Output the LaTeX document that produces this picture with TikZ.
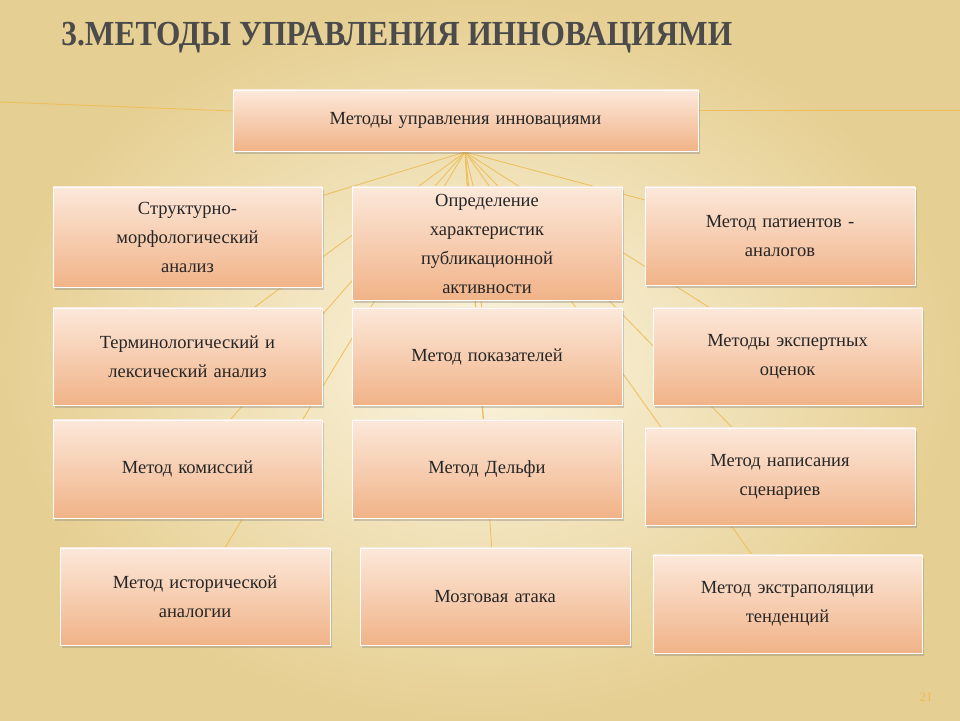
\documentclass[tikz,border=0pt]{standalone}
\usepackage{fontspec}
\setmainfont{Liberation Serif}
\usetikzlibrary{shadows}

\definecolor{bgin}{HTML}{FBF4DF}
\definecolor{bgout}{HTML}{E6CF92}
\definecolor{boxtop}{HTML}{FCE8DA}
\definecolor{boxbot}{HTML}{F1B388}
\definecolor{ray}{HTML}{EDBE5A}
\definecolor{titlegray}{HTML}{4B4B4B}

\tikzset{
  methodbox/.style={draw=white, line width=0.6pt, top color=boxtop, bottom color=boxbot,
    drop shadow={shadow xshift=2pt, shadow yshift=-3pt, opacity=0.35},
    inner sep=0pt, align=center, text width=250pt,
    font=\fontsize{18.5}{29}\selectfont, text=black!85},
  rayline/.style={ray, line width=0.8pt}
}

\begin{document}
\begin{tikzpicture}[x=1pt, y=1pt]
  % Фон
  \shade[inner color=bgin, outer color=bgout] (0,0) rectangle (960,720);
  \useasboundingbox (0,0) rectangle (960,720);

  % Заголовок
  \node[anchor=west, text=titlegray, font=\fontsize{32}{36}\selectfont\bfseries,
    xscale=0.98, yscale=1.1] (title) at (58,682) {3.МЕТОДЫ УПРАВЛЕНИЯ ИННОВАЦИЯМИ};

  \coordinate (hub) at (465,568);
  \coordinate (edgeL) at (0,618);
  \coordinate (edgeR) at (960,610);

  % Лучи (под блоками)
  \foreach \p in {(187,483),(487,476),(780,484),(187,363),(487,363),(787,363),
                  (187,251),(487,251),(780,243),(195,123),(495,123),(787,116)}
    \draw[rayline] (hub) -- \p;
  \draw[rayline] (edgeL) -- (465,600);
  \draw[rayline] (465,610) -- (edgeR);

  % Блоки
  \node[methodbox, text width=440pt, minimum width=465pt, minimum height=61pt] (main)
    at (465.5,599.5) {Методы управления инновациями};

  \node[methodbox, minimum width=269pt, minimum height=100pt] (struct) at (187.5,483)
    {Структурно-\\морфологический\\анализ};
  \node[methodbox, minimum width=270pt, minimum height=113pt] (publ) at (487,476.5)
    {Определение\\характеристик\\публикационной\\активности};
  \node[methodbox, minimum width=270pt, minimum height=98pt] (patent) at (780,484)
    {Метод патиентов -\\аналогов};

  \node[methodbox, minimum width=269pt, minimum height=97pt] (term) at (187.5,363.5)
    {Терминологический и\\лексический анализ};
  \node[methodbox, minimum width=270pt, minimum height=97pt] (index) at (487,363.5)
    {Метод показателей};
  \node[methodbox, minimum width=269pt, minimum height=97pt] (expert) at (787.5,363.5)
    {Методы экспертных\\оценок};

  \node[methodbox, minimum width=269pt, minimum height=98pt] (comm) at (187.5,251)
    {Метод комиссий};
  \node[methodbox, minimum width=270pt, minimum height=98pt] (delphi) at (487,251)
    {Метод Дельфи};
  \node[methodbox, minimum width=270pt, minimum height=97pt] (scen) at (780,243.5)
    {Метод написания\\сценариев};

  \node[methodbox, minimum width=270pt, minimum height=97pt] (hist) at (195,123.5)
    {Метод исторической\\аналогии};
  \node[methodbox, minimum width=270pt, minimum height=97pt] (brain) at (495,123.5)
    {Мозговая атака};
  \node[methodbox, minimum width=269pt, minimum height=98pt] (extra) at (787.5,116)
    {Метод экстраполяции\\тенденций};

  % Номер слайда
  \node[text=ray, font=\fontsize{13}{15}\selectfont] (pagenum) at (926,23) {21};
\end{tikzpicture}
\end{document}
